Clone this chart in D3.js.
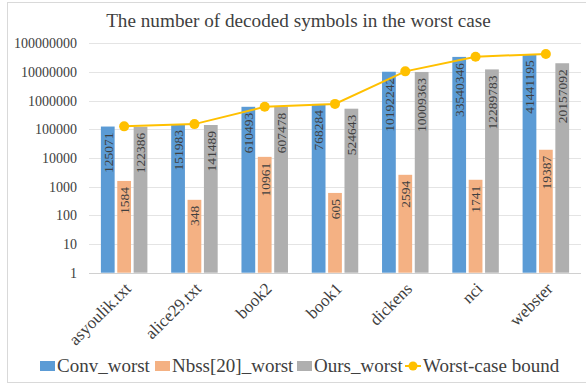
<!DOCTYPE html>
<html><head><meta charset="utf-8">
<script src="https://cdn.jsdelivr.net/npm/d3@7"></script>
<style>
body{margin:0;background:#fff;}
</style></head>
<body><svg id="c" width="586" height="386"></svg>
<script>
const categories = ["asyoulik.txt","alice29.txt","book2","book1","dickens","nci","webster"];
const convWorst = [125071,151983,610493,768284,10192242,33540346,41441195];
const nbssWorst = [1584,348,10961,605,2594,1741,19387];
const oursWorst = [122386,141489,607478,524643,10009363,12289783,20157092];
const worstBound = [127000,152000,612000,770000,10500000,34000000,42500000];
const seriesNames = ["Conv_worst","Nbss[20]_worst","Ours_worst","Worst-case bound"];
const yTicks = [1,10,100,1000,10000,100000,1000000,10000000,100000000];
const colors = ["#5B9BD5","#F4B183","#AFAFAF","#FFC000"];
const FONT = "Liberation Serif";

const svg = d3.select("#c").attr("font-family",FONT);
svg.append("rect").attr("x",7.5).attr("y",2.5).attr("width",600).attr("height",380)
  .attr("fill","#fff").attr("stroke","#d9d9d9").attr("stroke-width",1);

const plot = {left:89, right:581, top:43.3, bottom:272.7};
const x = d3.scaleBand().domain(categories).range([plot.left,plot.right]).paddingInner(0).paddingOuter(0);
const y = d3.scaleLog().domain([1,1e8]).range([plot.bottom,plot.top]);
const keys = [0,1,2];
const xi = d3.scaleBand().domain(keys).range([0,46.5]).paddingInner(0.16).paddingOuter(0);

svg.append("text").attr("x",298.5).attr("y",27).attr("text-anchor","middle")
  .attr("font-family",FONT).attr("font-size",19.2).attr("fill","#404040")
  .text("The number of decoded symbols in the worst case");

svg.append("g").selectAll("line").data(yTicks).join("line")
  .attr("x1",plot.left).attr("x2",plot.right)
  .attr("y1",d=>Math.round(y(d))+0.5).attr("y2",d=>Math.round(y(d))+0.5)
  .attr("stroke",d=>d===1?"#d0d0d0":"#e4e4e4").attr("stroke-width",1);

const yAxis = d3.axisLeft(y).tickValues(yTicks).tickFormat(d=>String(d)).tickSize(0).tickPadding(0);
const gy = svg.append("g").attr("transform",`translate(${plot.left-12},0)`).call(yAxis);
gy.attr("font-family",FONT);
gy.select(".domain").remove();
gy.selectAll("text").attr("font-size",14).attr("fill","#404040").attr("font-family",FONT);

const series = [convWorst,nbssWorst,oursWorst];
const barW = xi.bandwidth();
const groups = svg.append("g").selectAll("g").data(categories).join("g")
  .attr("transform",(d)=>`translate(${x(d)+x.bandwidth()/2-23.25},0)`);
keys.forEach(k=>{
  groups.append("rect")
    .attr("x",xi(k)).attr("width",barW)
    .attr("y",(d,i)=>y(series[k][i]))
    .attr("height",(d,i)=>plot.bottom-y(series[k][i]))
    .attr("fill",colors[k]);
});
keys.forEach(k=>{
  groups.append("text")
    .attr("transform",(d,i)=>`translate(${xi(k)+barW/2+4.8},${y(series[k][i])+6}) rotate(-90)`)
    .attr("text-anchor","end").attr("font-family",FONT)
    .attr("font-size",13.5).attr("fill","#404040")
    .text((d,i)=>series[k][i]);
});

const cx = d=>x(d)+x.bandwidth()/2;
const line = d3.line().x((d,i)=>cx(categories[i])).y(d=>y(d));
svg.append("path").datum(worstBound).attr("d",line)
  .attr("fill","none").attr("stroke",colors[3]).attr("stroke-width",2);
svg.append("g").selectAll("circle").data(worstBound).join("circle")
  .attr("cx",(d,i)=>cx(categories[i])).attr("cy",d=>y(d)).attr("r",5)
  .attr("fill",colors[3]);

svg.append("g").selectAll("text").data(categories).join("text")
  .attr("transform",d=>`translate(${cx(d)+8},${plot.bottom+17}) rotate(-45)`)
  .attr("text-anchor","end").attr("font-family",FONT).attr("font-size",17).attr("fill","#404040")
  .text(d=>d);

const lg = svg.append("g");
const lx = [40,155,297,405];
const ty = 372;
keys.forEach(k=>{
  lg.append("rect").attr("x",lx[k]).attr("y",361).attr("width",15).attr("height",10).attr("fill",colors[k]);
  lg.append("text").attr("x",lx[k]+17).attr("y",ty).attr("font-family",FONT).attr("font-size",19).attr("fill","#404040").text(seriesNames[k]);
});
lg.append("line").attr("x1",lx[3]).attr("x2",lx[3]+16).attr("y1",366).attr("y2",366)
  .attr("stroke",colors[3]).attr("stroke-width",2);
lg.append("circle").attr("cx",lx[3]+8).attr("cy",366).attr("r",4.5).attr("fill",colors[3]);
lg.append("text").attr("x",lx[3]+18).attr("y",ty).attr("font-family",FONT).attr("font-size",19).attr("fill","#404040").text(seriesNames[3]);
</script></body></html>
